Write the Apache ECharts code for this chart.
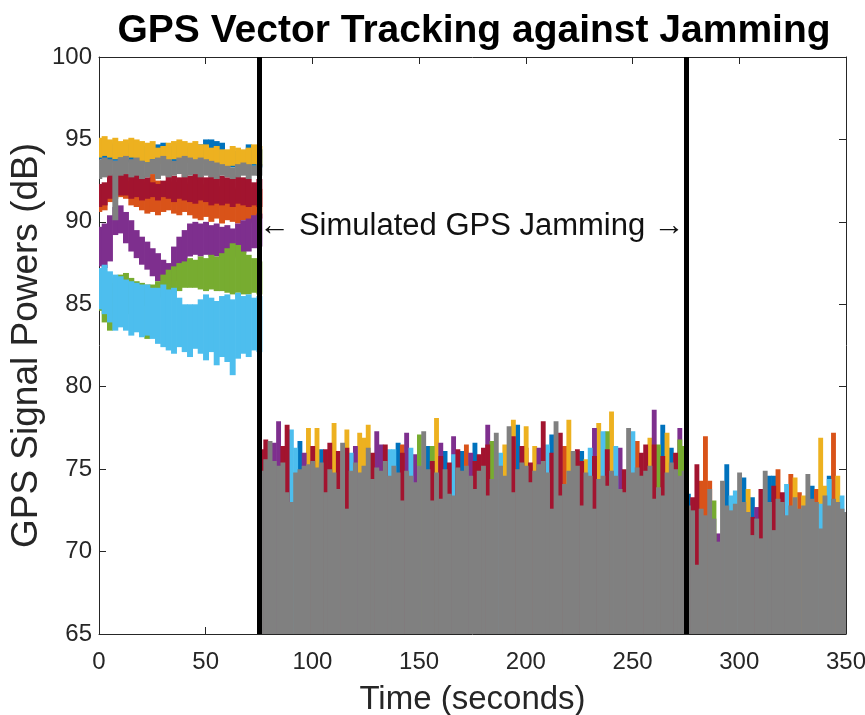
<!DOCTYPE html>
<html>
<head>
<meta charset="utf-8">
<title>GPS Vector Tracking against Jamming</title>
<script src="https://cdn.jsdelivr.net/npm/echarts/dist/echarts.min.js"></script>
<style>
  html, body { margin: 0; padding: 0; background: #fff; }
  #chart { width: 865px; height: 715px; }
</style>
</head>
<body>
<div id="chart"></div>
<script>
/* GPS signal power per satellite, before and during simulated jamming */

// time grid of the clean part (s)
var preTime = [0, 2.5, 5, 7.5, 10, 12.5, 15, 17.5, 20, 22.5, 25, 27.5, 30, 32.5, 35, 37.5,
  40, 42.5, 45, 47.5, 50, 52.5, 55, 57.5, 60, 62.5, 65, 67.5, 70, 72.5, 75];

// upper / lower edge of each noisy trace before jamming (dB)
var blueHi = [94.8, 94.9, 94.7, 94.8, 94.6, 94.7, 94.8, 94.7, 94.6, 94.5, 94.6, 94.7, 94.8, 94.6, 94.6, 94.7,
  94.6, 94.5, 94.6, 94.7, 95.0, 95.0, 94.9, 94.8, 94.3, 94.2, 94.3, 94.2, 94.7, 94.4, 94.4];
var blueLo = [93.8, 93.7, 93.6, 93.7, 93.8, 93.6, 93.7, 93.8, 93.6, 93.5, 93.7, 93.6, 93.7, 93.8, 93.6, 93.5,
  93.7, 93.6, 93.5, 93.6, 93.8, 93.7, 93.6, 93.5, 93.4, 93.3, 93.4, 93.3, 93.5, 93.4, 93.3];
var orangeHi = [92.2, 92.3, 92.4, 92.5, 92.6, 92.5, 92.4, 92.5, 92.4, 92.6, 92.9, 92.5, 92.4, 92.5, 92.4, 92.3,
  92.4, 92.3, 92.2, 92.3, 92.2, 92.1, 92.2, 92.1, 92.0, 92.1, 92.0, 92.1, 92.0, 92.1, 92.0];
var orangeLo = [90.6, 90.7, 91.2, 91.4, 91.5, 91.4, 91.0, 90.9, 90.7, 90.5, 90.6, 90.4, 90.6, 90.7, 90.5, 90.4,
  90.6, 90.4, 90.2, 90.1, 90.3, 90.0, 90.2, 89.9, 90.1, 90.0, 89.9, 90.1, 89.9, 90.0, 90.2];
var yellowHi = [95.1, 95.2, 95.0, 95.1, 94.9, 95.0, 95.1, 95.0, 94.9, 94.8, 94.9, 94.5, 94.6, 94.8, 94.9, 95.0,
  94.9, 94.8, 94.9, 94.7, 94.7, 94.5, 94.6, 94.4, 94.4, 94.6, 94.5, 94.4, 94.5, 94.7, 94.6];
var yellowLo = [93.9, 94.0, 93.9, 93.8, 93.9, 93.8, 93.9, 93.8, 93.7, 93.6, 93.8, 93.5, 93.6, 93.7, 93.8, 93.8,
  93.7, 93.6, 93.7, 93.5, 93.6, 93.4, 93.5, 93.3, 93.3, 93.4, 93.3, 93.2, 93.4, 93.5, 93.4];
var purpleHi = [89.7, 89.9, 90.4, 90.9, 91.0, 90.6, 90.1, 89.5, 89.1, 88.8, 88.4, 88.1, 87.7, 87.5, 88.5, 89.1,
  89.5, 89.9, 90.0, 89.9, 90.0, 89.8, 89.9, 89.7, 89.8, 89.6, 89.9, 90.1, 90.2, 90.4, 90.5];
var purpleLo = [87.3, 87.2, 87.6, 89.2, 89.3, 88.7, 88.2, 87.8, 87.4, 87.1, 86.7, 86.4, 86.1, 85.9, 86.4, 87.0,
  87.5, 87.9, 88.0, 87.9, 88.0, 87.9, 87.9, 87.8, 87.9, 87.8, 87.9, 88.1, 88.2, 88.4, 88.5];
var greenHi = [86.5, 86.4, 86.3, 86.6, 86.8, 86.9, 86.6, 86.4, 86.3, 86.2, 86.2, 86.4, 86.8, 87.1, 87.3, 87.5,
  87.6, 87.8, 87.7, 87.9, 87.8, 88.0, 87.9, 88.1, 88.4, 88.7, 88.6, 88.2, 88.0, 87.8, 87.6];
var greenLo = [84.6, 83.9, 83.4, 84.2, 84.5, 84.4, 84.6, 84.7, 84.9, 82.9, 85.3, 85.4, 85.5, 85.6, 85.7, 85.8,
  86.0, 86.0, 86.0, 85.9, 85.8, 85.9, 85.8, 85.8, 85.7, 85.6, 85.7, 85.6, 85.6, 85.7, 85.6];
var lightBlueHi = [87.2, 87.4, 87.0, 86.8, 86.7, 86.5, 86.4, 86.3, 86.2, 86.2, 86.0, 86.0, 86.2, 85.9, 86.0, 85.4,
  85.0, 85.0, 85.0, 85.3, 85.6, 85.4, 85.2, 85.5, 85.6, 85.3, 85.7, 85.5, 85.6, 85.4, 85.5];
var lightBlueLo = [84.7, 84.4, 83.9, 83.4, 83.6, 83.4, 83.1, 83.3, 83.0, 83.1, 82.9, 82.6, 82.4, 82.2, 82.0, 82.4,
  82.1, 81.8, 82.3, 82.0, 81.6, 82.1, 81.3, 81.8, 81.5, 80.7, 81.7, 82.0, 81.8, 82.2, 82.1];
var redHi = [92.3, 92.4, 92.9, 92.9, 93.0, 92.9, 92.8, 92.9, 92.8, 92.7, 92.4, 92.3, 92.5, 92.9, 92.8, 92.7,
  92.9, 92.8, 92.9, 92.8, 92.7, 92.8, 92.9, 92.8, 92.7, 92.6, 92.8, 92.7, 92.6, 92.4, 92.6];
var redLo = [90.9, 91.0, 91.4, 91.6, 91.6, 91.6, 91.4, 91.5, 91.3, 91.4, 91.5, 91.3, 91.5, 91.4, 91.2, 91.4,
  91.3, 91.2, 91.1, 91.3, 91.2, 91.0, 91.1, 91.0, 91.1, 90.9, 91.1, 91.0, 90.9, 91.0, 90.9];
var grayHi = [93.8, 93.9, 93.8, 93.7, 93.9, 94.0, 93.8, 93.9, 93.7, 93.6, 93.8, 93.9, 94.0, 93.8, 93.7, 93.9,
  94.0, 93.9, 93.8, 93.9, 93.8, 93.7, 93.6, 93.5, 93.4, 93.3, 93.5, 93.6, 93.5, 93.4, 93.5];
var grayLo = [92.6, 92.7, 92.8, 90.1, 92.8, 92.9, 92.7, 92.8, 92.6, 92.7, 92.9, 92.6, 92.8, 92.7, 92.8, 92.9,
  92.7, 92.8, 92.9, 92.7, 92.8, 92.7, 92.6, 92.8, 92.7, 92.6, 92.7, 92.8, 92.6, 92.8, 92.8];

// peaks that stick out of the jammed noise floor: [time s, top dB]
var blueJam = [[94, 76.7], [104, 76.2], [140, 76.6], [154, 76.4], [162, 76.1], [170, 76.1], [176, 76.6],
  [196, 77.7], [212, 77.1], [226, 76.1], [264, 77.7], [268, 76.3], [276, 73.5], [294, 75.3], [302, 74.5],
  [306, 73.3], [314, 74.6], [316, 74.6], [334, 74.0], [342, 74.6]];
var orangeJam = [[142, 76.5], [172, 76.5], [200, 76.3], [218, 76.4], [252, 76.7], [282, 74.3], [284, 77.0],
  [286, 74.3], [318, 75.0], [324, 74.7], [328, 73.6], [336, 73.8], [344, 77.2]];
var yellowJam = [[98, 77.5], [102, 77.5], [110, 77.8], [116, 77.4], [122, 77.2], [124, 76.9], [126, 77.7],
  [158, 78.1], [190, 76.5], [194, 78.0], [200, 77.6], [204, 76.4], [220, 78.0], [228, 75.6], [234, 77.8],
  [240, 78.5], [258, 76.9], [266, 77.2], [304, 73.8], [326, 74.5], [330, 73.4], [338, 76.9], [340, 74.0],
  [346, 74.6]];
var purpleJam = [[82, 76.6], [84, 77.9], [96, 76.0], [120, 76.4], [130, 77.3], [132, 76.5], [144, 77.2],
  [148, 75.9], [160, 76.6], [166, 77.0], [174, 76.0], [182, 77.7], [206, 76.3], [232, 77.5], [244, 76.3],
  [260, 78.6], [272, 77.5], [290, 71.1], [308, 72.7]];
var greenJam = [[150, 77.1], [156, 76.4], [184, 76.7], [238, 77.3], [262, 76.5], [272, 76.8], [274, 76.4],
  [288, 73.1]];
var lightBlueJam = [[90, 77.4], [92, 76.3], [118, 76.0], [136, 76.2], [138, 76.2], [146, 76.3], [166, 75.9],
  [188, 76.0], [210, 76.5], [230, 76.3], [236, 77.3], [242, 76.4], [250, 77.3], [296, 73.4], [298, 73.7],
  [322, 74.1], [338, 72.9], [342, 74.4], [348, 73.4]];
var redJam = [[76, 76.2], [78, 76.8], [86, 76.4], [88, 77.7], [100, 76.4], [106, 76.2], [108, 76.6],
  [112, 76.1], [116, 76.3], [128, 76.0], [134, 76.5], [142, 76.0], [156, 75.5], [160, 75.8], [164, 75.4],
  [168, 76.2], [176, 75.5], [178, 75.9], [180, 76.3], [182, 76.5], [194, 77.0], [198, 76.4], [202, 75.4],
  [208, 77.9], [212, 76.0], [216, 77.2], [224, 76.2], [226, 75.5], [232, 75.8], [238, 76.2], [246, 75.0],
  [254, 76.0], [256, 76.5], [260, 76.5], [264, 75.8], [270, 76.0], [278, 73.3], [280, 75.3], [306, 72.1],
  [310, 73.8], [316, 74.0], [320, 73.6]];
// top of the gray trace, which covers everything below it while jammed
var grayJam = [[76, 74.9], [78, 75.6], [80, 76.7], [82, 75.5], [84, 75.2], [86, 75.4], [88, 73.6], [90, 73.0],
  [92, 74.8], [94, 75.0], [96, 75.2], [98, 75.3], [100, 75.5], [102, 75.1], [104, 75.4], [106, 73.6],
  [108, 75.0], [110, 74.8], [112, 73.8], [114, 76.6], [116, 72.6], [118, 74.9], [120, 75.4], [122, 74.8],
  [124, 75.2], [126, 76.3], [128, 74.4], [130, 75.1], [132, 74.9], [134, 75.5], [136, 74.6], [138, 75.2],
  [140, 74.8], [142, 73.1], [144, 74.9], [146, 74.6], [148, 74.2], [150, 75.2], [152, 77.3], [154, 75.0],
  [156, 73.1], [158, 74.8], [160, 73.2], [162, 75.0], [164, 73.5], [166, 73.4], [168, 75.1], [170, 74.9],
  [172, 75.2], [174, 74.6], [176, 73.8], [178, 74.9], [180, 75.2], [182, 73.4], [184, 74.4], [186, 77.2],
  [188, 75.2], [190, 74.6], [192, 77.6], [194, 73.6], [196, 75.0], [198, 75.4], [200, 75.2], [202, 74.2],
  [204, 74.9], [206, 75.3], [208, 75.5], [210, 74.8], [212, 72.6], [214, 77.9], [216, 73.4], [218, 74.1],
  [220, 74.9], [222, 76.1], [224, 75.2], [226, 72.8], [228, 74.8], [230, 74.6], [232, 72.6], [234, 74.4],
  [236, 74.6], [238, 74.0], [240, 74.9], [242, 74.6], [244, 73.8], [246, 73.6], [248, 77.5], [250, 74.8],
  [252, 75.1], [254, 74.6], [256, 74.9], [258, 75.2], [260, 73.2], [262, 73.9], [264, 73.4], [266, 74.8],
  [268, 75.4], [270, 75.0], [272, 74.6], [274, 74.9], [276, 72.8], [278, 72.5], [280, 69.2], [282, 72.6],
  [284, 72.2], [286, 73.8], [288, 72.0], [290, 70.6], [292, 74.3], [294, 72.8], [296, 72.5], [298, 72.9],
  [300, 74.8], [302, 73.0], [304, 72.4], [306, 71.0], [308, 72.0], [310, 70.8], [312, 74.9], [314, 73.0],
  [316, 71.3], [318, 73.2], [320, 73.0], [322, 72.2], [324, 72.8], [326, 73.3], [328, 72.6], [330, 72.8],
  [332, 74.7], [334, 73.2], [336, 73.0], [338, 71.4], [340, 73.4], [342, 72.8], [344, 73.2], [346, 73.0],
  [348, 72.6], [350, 72.4]];

var jamBounds = [75, 275];        // start / end of the jamming (s)
var xTicks = [0, 350, 50];        // min, max, step
var yTicks = [65, 100, 5];
var noteText = '\u2190 Simulated GPS Jamming \u2192';
var noteAt = [174.8, 89.75];

var PRE_STEP = 2.5, JAM_STEP = 2;
var font = "'Liberation Sans', Arial, Helvetica, sans-serif";
var ink = '#262626';

var traces = [
  { name: 'SV 1', color: '#0072BD', hi: blueHi, lo: blueLo, jam: blueJam },
  { name: 'SV 2', color: '#D95319', hi: orangeHi, lo: orangeLo, jam: orangeJam },
  { name: 'SV 3', color: '#EDB120', hi: yellowHi, lo: yellowLo, jam: yellowJam },
  { name: 'SV 4', color: '#7E2F8E', hi: purpleHi, lo: purpleLo, jam: purpleJam },
  { name: 'SV 5', color: '#77AC30', hi: greenHi, lo: greenLo, jam: greenJam },
  { name: 'SV 6', color: '#4DBEEE', hi: lightBlueHi, lo: lightBlueLo, jam: lightBlueJam },
  { name: 'SV 7', color: '#A2142F', hi: redHi, lo: redLo, jam: redJam },
  { name: 'SV 8', color: '#808080', hi: grayHi, lo: grayLo, jam: grayJam }
];

// one rect per sample, from lo to hi, one sample wide
function drawBand(params, api) {
  var t = api.value(0);
  var w = t <= jamBounds[0] ? PRE_STEP : JAM_STEP;
  var a = api.coord([t - w / 2, api.value(2)]);
  var b = api.coord([t + w / 2, api.value(1)]);
  return {
    type: 'rect',
    shape: { x: a[0], y: a[1], width: b[0] - a[0] + 0.6, height: b[1] - a[1] },
    style: { fill: api.visual('color') }
  };
}

var series = traces.map(function (s, k) {
  var data = preTime.map(function (t, i) { return [t, s.lo[i], s.hi[i]]; });
  s.jam.forEach(function (p) { data.push([p[0], yTicks[0], p[1]]); });
  var one = {
    type: 'custom',
    name: s.name,
    renderItem: drawBand,
    data: data,
    encode: { x: 0, y: [1, 2] },
    itemStyle: { color: s.color },
    clip: true,
    silent: true,
    animation: false
  };
  if (k === traces.length - 1) {
    one.markLine = {
      symbol: 'none',
      silent: true,
      animation: false,
      label: { show: false },
      lineStyle: { color: '#000', width: 5, type: 'solid' },
      data: jamBounds.map(function (v) { return { xAxis: v }; })
    };
  }
  return one;
});

function boxAxis(pos, t, shown) {
  return {
    type: 'value', position: pos,
    min: t[0], max: t[1], interval: t[2],
    axisLine: { onZero: false, lineStyle: { color: ink, width: 1 } },
    axisTick: { inside: true, length: 7, lineStyle: { color: ink } },
    axisLabel: { show: shown, fontSize: 24, color: ink, fontFamily: font, margin: 7 },
    splitLine: { show: false }
  };
}

var xMain = boxAxis('bottom', xTicks, true);
xMain.axisLabel.margin = 16;
xMain.name = 'Time (seconds)';
xMain.nameLocation = 'middle';
xMain.nameGap = 49;
xMain.nameMoveOverlap = false;
xMain.nameTextStyle = { fontSize: 33, color: ink, fontFamily: font };
var yMain = boxAxis('left', yTicks, true);
yMain.name = 'GPS Signal Powers (dB)';
yMain.nameLocation = 'middle';
yMain.nameGap = 54;
yMain.nameMoveOverlap = false;
yMain.nameTextStyle = { fontSize: 37, color: ink, fontFamily: font };

var chart = echarts.init(document.getElementById('chart'));
chart.setOption({
  animation: false,
  backgroundColor: '#fff',
  title: {
    text: 'GPS Vector Tracking against Jamming',
    left: 469, top: 7, textAlign: 'center',
    textStyle: { fontSize: 39, fontWeight: 'bold', color: '#000', fontFamily: font }
  },
  grid: { left: 99, right: 19, top: 57, bottom: 81, containLabel: false, outerBoundsMode: 'none' },
  xAxis: [xMain, boxAxis('top', xTicks, false)],
  yAxis: [yMain, boxAxis('right', yTicks, false)],
  series: series
});

var notePx = chart.convertToPixel({ gridIndex: 0 }, noteAt);
chart.setOption({
  graphic: [{
    type: 'text', x: notePx[0], y: notePx[1], z: 100,
    style: { text: noteText, align: 'center', verticalAlign: 'middle',
      fontSize: 31, fontFamily: font, fill: '#111' }
  }]
});
</script>
</body>
</html>
